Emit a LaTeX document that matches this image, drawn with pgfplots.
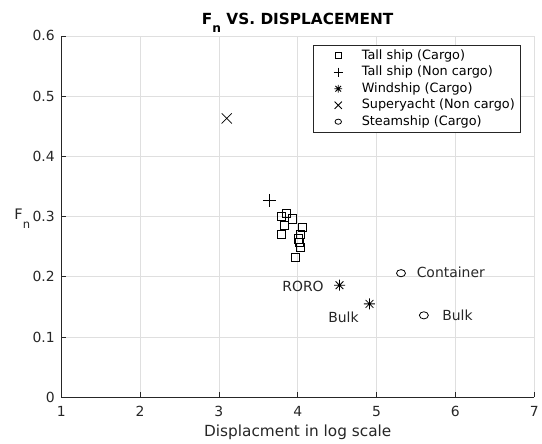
\documentclass[border=0pt]{standalone}
\usepackage{pgfplots}
\pgfplotsset{compat=1.18}
\usepackage{fontspec}
\setmainfont{DejaVu Sans}

\definecolor{axgray}{RGB}{38,38,38}
\definecolor{gridgray}{RGB}{223,223,223}

% eight-spoke asterisk (plus and cross combined)
\pgfdeclareplotmark{spoke}{%
  \pgfpathmoveto{\pgfqpoint{0pt}{\pgfplotmarksize}}%
  \pgfpathlineto{\pgfqpoint{0pt}{-\pgfplotmarksize}}%
  \pgfpathmoveto{\pgfqpoint{\pgfplotmarksize}{0pt}}%
  \pgfpathlineto{\pgfqpoint{-\pgfplotmarksize}{0pt}}%
  \pgfpathmoveto{\pgfqpoint{.7071\pgfplotmarksize}{.7071\pgfplotmarksize}}%
  \pgfpathlineto{\pgfqpoint{-.7071\pgfplotmarksize}{-.7071\pgfplotmarksize}}%
  \pgfpathmoveto{\pgfqpoint{-.7071\pgfplotmarksize}{.7071\pgfplotmarksize}}%
  \pgfpathlineto{\pgfqpoint{.7071\pgfplotmarksize}{-.7071\pgfplotmarksize}}%
  \pgfusepathqstroke}

\newcommand{\Fn}[2]{F\raisebox{-#1}{\fontsize{#2}{#2}\selectfont n}}

\begin{document}
\begin{tikzpicture}
\begin{axis}[
  name=ax,
  scale only axis, width=474bp, height=362bp,
  xmin=1, xmax=7, ymin=0, ymax=0.6,
  xtick={1,2,3,4,5,6,7},
  ytick={0,0.1,0.2,0.3,0.4,0.5,0.6},
  yticklabels={0,0.1,0.2,0.3,0.4,0.5,0.6},
  /pgf/number format/assume math mode=true,
  axis lines*=left,
  axis line style={axgray, line width=0.6bp},
  tick style={axgray, line width=0.6bp},
  tick align=inside, major tick length=5bp,
  grid=major, major grid style={gridgray, line width=0.6bp},
  ticklabel style={font=\fontsize{14}{16}\selectfont, text=axgray},
  xticklabel style={anchor=base, yshift=-19.7bp},
  yticklabel style={anchor=east, inner xsep=0pt, xshift=-6.3bp},
  title={\Fn{8bp}{12.3} VS. DISPLACEMENT},
  title style={font=\bfseries\fontsize{15.4}{17}\selectfont, text=black,
    at={(rel axis cs:0.5,1)}, anchor=base, yshift=5bp},
  xlabel={Displacment in log scale},
  xlabel style={font=\fontsize{15.4}{17}\selectfont, text=axgray,
    at={(rel axis cs:0.5,0)}, anchor=base, yshift=-39.7bp},
  ylabel={\Fn{8.4bp}{11.6}},
  ylabel style={font=\fontsize{14.6}{17}\selectfont, text=axgray,
    at={(rel axis cs:0,0.5)}, anchor=center, rotate=-90, xshift=-39bp, yshift=-2bp},
  legend cell align=left,
  legend style={at={(rel axis cs:0.972,0.975)}, anchor=north east,
    draw=axgray, line width=0.6bp, fill=white,
    font=\fontsize{12.9}{14}\selectfont, text=black,
    inner xsep=6bp, inner ysep=4.5bp, row sep=4.3bp,
    nodes={inner sep=0pt, text height=9.4bp, text depth=2.8bp}},
  legend image code/.code={%
    \path[draw=none, fill=none] (0bp,-3bp) rectangle (42.3bp,3bp);
    \draw[#1, every mark/.append style={scale=0.72}]
      plot coordinates {(18.7bp,0bp)};},
  clip=false,
]
% tall ships carrying cargo
\addplot[only marks, mark=square, mark size=4.1bp, line width=0.8bp, black]
  coordinates {
  (3.79,0.300) (3.86,0.305) (3.93,0.296) (3.83,0.285) (3.79,0.271)
  (4.06,0.282) (4.03,0.271) (4.01,0.263) (4.02,0.257) (4.03,0.249)
  (3.97,0.232)};
\addlegendentry{Tall ship (Cargo)}
% tall ship without cargo
\addplot[only marks, mark=+, mark size=6.5bp, line width=0.8bp, black]
  coordinates {(3.64,0.327)};
\addlegendentry{Tall ship (Non cargo)}
% modern wind-assisted cargo ships
\addplot[only marks, mark=spoke, mark size=5.5bp, line width=0.8bp, black]
  coordinates {(4.53,0.186) (4.91,0.155)};
\addlegendentry{Windship (Cargo)}
% superyacht
\addplot[only marks, mark=x, mark size=7.2bp, line width=0.8bp, black]
  coordinates {(3.10,0.463)};
\addlegendentry{Superyacht (Non cargo)}
% conventional steamships
\addplot[only marks, mark=o, mark size=3.6bp, line width=0.8bp, black,
  mark options={xscale=1.25}]
  coordinates {(5.31,0.206) (5.60,0.136)};
\addlegendentry{Steamship (Cargo)}

% point annotations
\begin{scope}[every node/.style={font=\fontsize{14}{16}\selectfont, text=axgray, inner sep=0pt}]
\node[anchor=east, xshift=-15.7bp, yshift=-1bp] at (axis cs:4.53,0.186) {RORO};
\node[anchor=east, xshift=-10.7bp, yshift=-13.4bp] at (axis cs:4.91,0.155) {Bulk};
\node[anchor=west, xshift=15.6bp, yshift=0.7bp] at (axis cs:5.31,0.206) {Container};
\node[anchor=west, xshift=18.3bp] at (axis cs:5.60,0.136) {Bulk};
\end{scope}
\end{axis}
% overall page extent around the axis box
\path (ax.south west) +(-61.3bp,-44bp) (ax.north east) +(6.7bp,36bp);
\end{tikzpicture}
\end{document}
